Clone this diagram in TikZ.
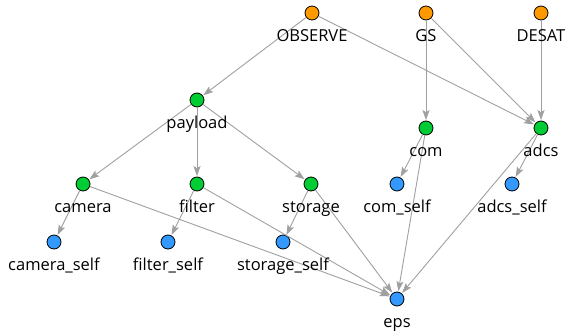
\documentclass[tikz,border=0pt]{standalone}
\usepackage{fontspec}
\setmainfont{Open Sans}
\usetikzlibrary{arrows.meta}
\definecolor{srcorange}{HTML}{FF9900}
\definecolor{midgreen}{HTML}{00CC33}
\definecolor{leafblue}{HTML}{3399FF}
\definecolor{edgegray}{HTML}{A0A0A0}
\tikzset{
  dot/.style={circle,draw=black,line width=0.8pt,minimum size=14pt,inner sep=0pt},
  src/.style={dot,fill=srcorange},
  mid/.style={dot,fill=midgreen},
  leaf/.style={dot,fill=leafblue},
  lbl/.style={font=\fontsize{16.5}{19}\selectfont,inner sep=0pt,text=black},
  edge/.style={draw=edgegray,line width=0.9pt,-{Stealth[length=10pt,width=7pt,inset=2pt]},shorten >=0.5pt}
}
\begin{document}
\begin{tikzpicture}[x=1pt,y=-1pt]
\useasboundingbox (0,0) rectangle (568,335);
% vertices
\node[src]  (OBSERVE) at (312,13) {};
\node[src]  (GS)      at (426,13) {};
\node[src]  (DESAT)   at (541,13) {};
\node[mid]  (payload) at (197,100) {};
\node[mid]  (com)     at (426,128) {};
\node[mid]  (adcs)    at (541,128) {};
\node[mid]  (camera)  at (83,184) {};
\node[mid]  (filter)  at (197,184) {};
\node[mid]  (storage) at (311,184) {};
\node[leaf] (comself) at (397,184) {};
\node[leaf] (adcsself) at (512,184) {};
\node[leaf] (cameraself) at (54,242) {};
\node[leaf] (filterself) at (168,242) {};
\node[leaf] (storageself) at (283,242) {};
\node[leaf] (eps)     at (397,299) {};
% dependencies
\foreach \a/\b in {OBSERVE/payload,OBSERVE/adcs,GS/com,GS/adcs,DESAT/adcs,
  payload/camera,payload/filter,payload/storage,
  camera/cameraself,camera/eps,filter/filterself,filter/eps,
  storage/storageself,storage/eps,com/comself,com/eps,adcs/adcsself,adcs/eps}
  \draw[edge] (\a) -- (\b);
% names
\foreach \n/\t in {OBSERVE/OBSERVE,GS/GS,DESAT/DESAT,payload/payload,com/com,adcs/adcs,
  camera/camera,filter/filter,storage/storage,comself/com\_self,adcsself/adcs\_self,
  cameraself/camera\_self,filterself/filter\_self,storageself/storage\_self,eps/eps}
  \node[lbl,anchor=base] (l\n) at ([yshift=-28.5pt]\n.center) {\t};
\end{tikzpicture}
\end{document}
